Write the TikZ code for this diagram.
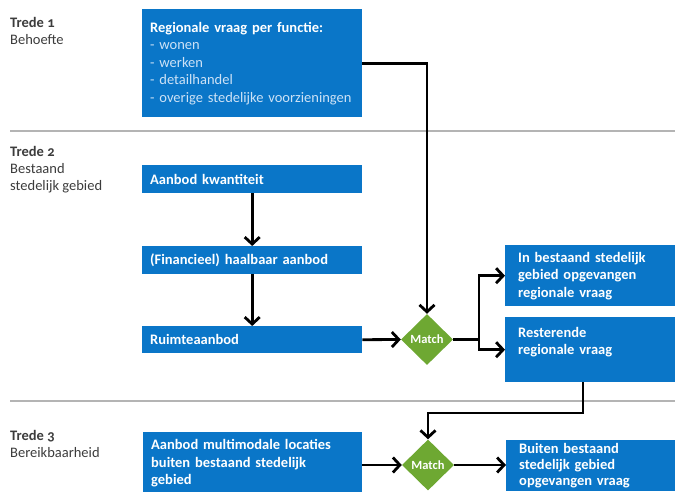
\documentclass[tikz,border=0pt]{standalone}
\usepackage{fontspec}
\setmainfont{Carlito}[Numbers=OldStyle]
\usetikzlibrary{arrows.meta,shapes.geometric,positioning}

\definecolor{rijkblauw}{RGB}{10,118,200}
\definecolor{matchgroen}{RGB}{110,168,50}
\definecolor{lijngrijs}{RGB}{180,180,180}
\definecolor{lijstblauw}{RGB}{205,226,246}
\definecolor{labelgrijs}{RGB}{60,60,60}

\newcommand\blokfont{\fontsize{14.5}{17.5}\selectfont}
\newcommand\tredefont{\fontsize{14.5}{17}\selectfont}
\newcommand\lijst[1]{{\mdseries\color{lijstblauw}- #1}}

\tikzset{
  blok/.style={fill=rijkblauw, text=white, font=\blokfont\bfseries, align=left,
    anchor=north west, inner xsep=8pt, inner ysep=3pt},
  match/.style={diamond, fill=matchgroen, text=white, font=\fontsize{12.5}{14}\selectfont\bfseries,
    inner sep=0pt, minimum width=52pt, minimum height=51pt},
  pijl/.style={-{Straight Barb[length=7pt,width=15pt,line width=2.8pt]}, line width=2.8pt},
  trede/.style={anchor=north west, align=left, text=labelgrijs, font=\tredefont, inner sep=0pt},
  scheiding/.style={lijngrijs, line width=1.8pt}
}

\begin{document}
\begin{tikzpicture}[x=1pt,y=-1pt]
  \useasboundingbox (0,0) rectangle (675,492);
  \clip (0,0) rectangle (675,492);

  % treden
  \node[trede] (trede1) at (10,17) {\textbf{Trede 1}\\Behoefte};
  \node[trede] (trede2) at (10,146) {\textbf{Trede 2}\\Bestaand\\stedelijk gebied};
  \node[trede] (trede3) at (10,430) {\textbf{Trede 3}\\Bereikbaarheid};
  \draw[scheiding] (10,131) -- (675,131);
  \draw[scheiding] (10,401) -- (675,401);

  % blokken
  \node[blok, text width=204pt, minimum height=108pt] (regio) at (142,9)
    {Regionale vraag per functie:\\ \lijst{wonen}\\ \lijst{werken}\\ \lijst{detailhandel}\\
     \lijst{overige stedelijke voorzieningen}};
  \node[blok, text width=204pt, minimum height=28pt] (kwantiteit) at (142,165) {Aanbod kwantiteit};
  \node[blok, text width=204pt, minimum height=28pt] (haalbaar) at (142,246) {(Financieel) haalbaar aanbod};
  \node[blok, text width=204pt, minimum height=27pt] (ruimte) at (142,326) {Ruimteaanbod};
  \node[blok, text width=144pt, inner xsep=13pt, minimum height=61pt] (opgevangen) at (505,245)
    {In bestaand stedelijk\\gebied opgevangen\\regionale vraag};
  \node[blok, text width=144pt, inner xsep=13pt, minimum height=65pt] (resterend) at (505,317)
    {Resterende\\regionale vraag\\ \mbox{}};
  \node[blok, text width=203pt, minimum height=62pt] (multimodaal) at (143,432)
    {Aanbod multimodale locaties\\buiten bestaand stedelijk\\gebied};
  \node[blok, text width=143pt, inner xsep=13pt, inner ysep=3pt,
    font=\fontsize{14.5}{16}\selectfont\bfseries] (buiten) at (506,440)
    {Buiten bestaand\\stedelijk gebied\\opgevangen vraag\\[8pt]};

  % match
  \node[match] (match1) at (427,339.5) {Match};
  \node[match] (match2) at (428,465) {Match};

  % pijlen
  \draw[pijl] (regio.east) -| (match1.north);
  \draw[pijl] (kwantiteit.south) -- (haalbaar.north);
  \draw[pijl] (haalbaar.south) -- (ruimte.north);
  \draw[pijl] (ruimte.east) -- (match1.west);
  \coordinate (splitsing) at (479,339.5);
  \draw[line width=2.8pt] (match1.east) -- (splitsing);
  \draw[pijl] (splitsing) |- (opgevangen.west);
  \draw[pijl] (splitsing) |- (resterend.west);
  \coordinate (knik) at (583,413);
  \draw[pijl] (knik |- resterend.south) -- (knik) -| (match2.north);
  \draw[pijl] (multimodaal.east |- match2.west) -- (match2.west);
  \draw[pijl] (match2.east) -- (buiten.west |- match2.east);
\end{tikzpicture}
\end{document}
